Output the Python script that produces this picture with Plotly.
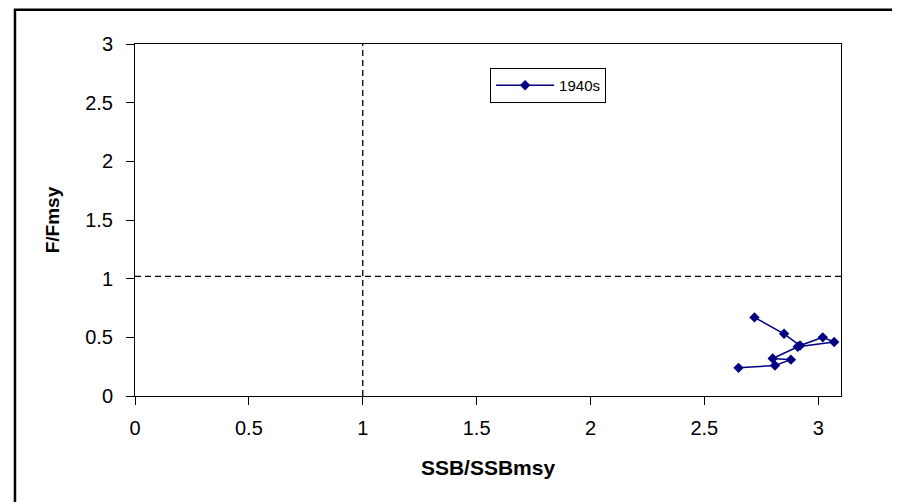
import plotly.graph_objects as go

# Data
ssb_ratio = [2.72, 2.85, 2.92, 3.02, 3.07, 2.91, 2.80, 2.88, 2.81, 2.65]
f_ratio = [0.67, 0.53, 0.43, 0.50, 0.46, 0.42, 0.32, 0.31, 0.26, 0.24]
series_name = "1940s"

x_ticks = [0, 0.5, 1, 1.5, 2, 2.5, 3]
x_tick_labels = ["0", "0.5", "1", "1.5", "2", "2.5", "3"]
y_ticks = [0, 0.5, 1, 1.5, 2, 2.5, 3]
y_tick_labels = ["0", "0.5", "1", "1.5", "2", "2.5", "3"]

x_range = [0, 3.1]
y_range = [0, 3]
ref_ssb = 1.0
ref_f = 1.02

fig = go.Figure()
fig.add_trace(go.Scatter(
    x=ssb_ratio, y=f_ratio, name=series_name, mode="lines+markers",
    line=dict(color="#000080", width=1.5),
    marker=dict(symbol="diamond", size=8, color="#000080"),
    showlegend=True,
))

# reference lines
fig.add_shape(type="line", xref="x", yref="y", x0=ref_ssb, x1=ref_ssb, y0=y_range[0], y1=y_range[1],
              line=dict(color="black", width=1.3, dash="6px,4px"))
fig.add_shape(type="line", xref="x", yref="y", x0=x_range[0], x1=x_range[1], y0=ref_f, y1=ref_f,
              line=dict(color="black", width=1.3, dash="6px,4px"))

# outer chart border
fig.add_shape(type="rect", xref="paper", yref="paper",
              x0=-0.170, x1=1.0807, y0=-0.35, y1=1.097,
              line=dict(color="black", width=2.5), fillcolor="rgba(0,0,0,0)", layer="below")

# page body has an 8px default margin, so the figure is sized to fit the 900x502 window
fig.update_layout(
    width=892, height=494,
    margin=dict(l=127, r=59, t=36, b=106),
    paper_bgcolor="white", plot_bgcolor="white",
    font=dict(family="Liberation Sans, Arial, sans-serif", color="black"),
    legend=dict(x=0.503, y=0.932, xanchor="left", yanchor="top",
                bordercolor="black", borderwidth=1, bgcolor="white",
                itemwidth=58, font=dict(size=15)),
    xaxis=dict(range=x_range, tickvals=x_ticks, ticktext=x_tick_labels,
               showgrid=False, zeroline=False, showline=True, linecolor="black", linewidth=1,
               mirror=True, ticks="outside", ticklen=8, tickcolor="black",
               tickfont=dict(size=20), ticklabelstandoff=6,
               title=dict(text="<b>SSB/SSBmsy</b>", font=dict(size=21), standoff=22)),
    yaxis=dict(range=y_range, tickvals=y_ticks, ticktext=y_tick_labels,
               showgrid=False, zeroline=False, showline=True, linecolor="black", linewidth=1,
               mirror=True, ticks="outside", ticklen=8, tickcolor="black",
               tickfont=dict(size=20), ticklabelstandoff=9,
               title=dict(text="<b>F/Fmsy</b>", font=dict(size=19), standoff=20)),
)

fig.write_html("out.html")
